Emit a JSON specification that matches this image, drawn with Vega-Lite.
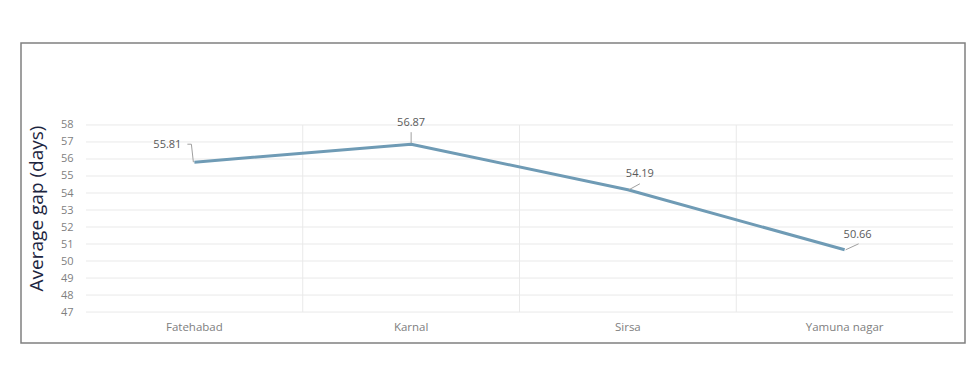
{
  "$schema": "https://vega.github.io/schema/vega-lite/v6.json",
  "width": 944,
  "height": 300,
  "autosize": "none",
  "padding": {"left": 21, "top": 43, "right": 11, "bottom": 40},
  "background": "white",
  "config": {
    "font": "Open Sans",
    "view": {"stroke": "#808080", "strokeWidth": 1.5}
  },
  "datasets": {
    "gap": [
      {"district": "Fatehabad", "gap": 55.81},
      {"district": "Karnal", "gap": 56.87},
      {"district": "Sirsa", "gap": 54.19},
      {"district": "Yamuna nagar", "gap": 50.66}
    ],
    "ticks": [
      {"v": 47}, {"v": 48}, {"v": 49}, {"v": 50}, {"v": 51}, {"v": 52},
      {"v": 53}, {"v": 54}, {"v": 55}, {"v": 56}, {"v": 57}, {"v": 58}
    ]
  },
  "resolve": {"scale": {"x": "independent"}},
  "layer": [
    {
      "data": {"name": "ticks"},
      "mark": {"type": "rule", "color": "#e9e9e9", "strokeWidth": 1},
      "encoding": {
        "y": {
          "field": "v",
          "type": "quantitative",
          "scale": {"domain": [45.18, 62.82], "nice": false, "zero": false},
          "axis": {
            "orient": "left",
            "offset": -65,
            "values": [47, 48, 49, 50, 51, 52, 53, 54, 55, 56, 57, 58],
            "grid": false,
            "domain": false,
            "ticks": false,
            "labelPadding": 13,
            "labelFontSize": 11,
            "labelColor": "#7f7f7f",
            "title": "Average gap (days)",
            "titleFontSize": 19,
            "titleFontWeight": "normal",
            "titleColor": "#1c2540",
            "titleAngle": -90,
            "titleBaseline": "middle",
            "titleAlign": "center",
            "titleX": -50,
            "titleY": 165
          }
        },
        "x": {"datum": 0, "type": "quantitative", "scale": {"domain": [0, 1], "range": [65, 932]}, "axis": null},
        "x2": {"datum": 1}
      }
    },
    {
      "data": {"name": "gap"},
      "encoding": {
        "x": {
          "field": "district",
          "type": "nominal",
          "sort": null,
          "scale": {
            "type": "band",
            "domain": ["Fatehabad", "Karnal", "Sirsa", "Yamuna nagar"],
            "range": [65, 932],
            "paddingInner": 0,
            "paddingOuter": 0
          },
          "axis": {
            "orient": "bottom",
            "offset": -31,
            "title": null,
            "grid": false,
            "domain": false,
            "ticks": false,
            "labelAngle": 0,
            "labelPadding": 9,
            "labelFontSize": 11.5,
            "labelColor": "#808080"
          }
        },
        "y": {
          "field": "gap",
          "type": "quantitative",
          "scale": {"domain": [45.18, 62.82], "nice": false, "zero": false},
          "axis": {
            "orient": "left",
            "offset": -65,
            "values": [47, 48, 49, 50, 51, 52, 53, 54, 55, 56, 57, 58],
            "grid": false,
            "domain": false,
            "ticks": false,
            "labelPadding": 13,
            "labelFontSize": 11,
            "labelColor": "#7f7f7f",
            "title": "Average gap (days)",
            "titleFontSize": 19,
            "titleFontWeight": "normal",
            "titleColor": "#1c2540",
            "titleAngle": -90,
            "titleBaseline": "middle",
            "titleAlign": "center",
            "titleX": -50,
            "titleY": 165
          }
        }
      },
      "layer": [
        {
          "transform": [{"filter": "datum.district !== 'Fatehabad'"}],
          "mark": {"type": "rule", "color": "#e9e9e9", "strokeWidth": 1},
          "encoding": {
            "x": {"field": "district", "type": "nominal", "bandPosition": 0},
            "y": {"datum": 47},
            "y2": {"datum": 58}
          }
        },
        {
          "mark": {"type": "line", "color": "#6f9bb5", "strokeWidth": 3, "strokeJoin": "round"}
        },
        {
          "transform": [{"filter": "datum.district === 'Fatehabad'"}],
          "layer": [
            {
              "mark": {"type": "rule", "color": "#a0a0a0", "strokeWidth": 1, "xOffset": -1, "y2Offset": -18, "x2Offset": -3},
              "encoding": {"x2": {"field": "district"}, "y2": {"field": "gap"}}
            },
            {
              "mark": {"type": "rule", "color": "#a0a0a0", "strokeWidth": 1, "xOffset": -3, "yOffset": -18, "x2Offset": -7, "y2Offset": -18},
              "encoding": {"x2": {"field": "district"}, "y2": {"field": "gap"}}
            },
            {
              "mark": {"type": "text", "fontSize": 11, "color": "#5a5a5a", "dx": -27, "dy": -17, "align": "center", "baseline": "middle"},
              "encoding": {"text": {"field": "gap", "format": ".2f"}}
            }
          ]
        },
        {
          "transform": [{"filter": "datum.district === 'Karnal'"}],
          "layer": [
            {
              "mark": {"type": "rule", "color": "#a0a0a0", "strokeWidth": 1, "yOffset": -1, "y2Offset": -12},
              "encoding": {"y2": {"field": "gap"}}
            },
            {
              "mark": {"type": "text", "fontSize": 11, "color": "#5a5a5a", "dy": -21, "align": "center", "baseline": "middle"},
              "encoding": {"text": {"field": "gap", "format": ".2f"}}
            }
          ]
        },
        {
          "transform": [{"filter": "datum.district === 'Sirsa'"}],
          "layer": [
            {
              "mark": {"type": "rule", "color": "#a0a0a0", "strokeWidth": 1, "xOffset": 1, "x2Offset": 12, "y2Offset": -6},
              "encoding": {"x2": {"field": "district"}, "y2": {"field": "gap"}}
            },
            {
              "mark": {"type": "text", "fontSize": 11, "color": "#5a5a5a", "dx": 12, "dy": -16, "align": "center", "baseline": "middle"},
              "encoding": {"text": {"field": "gap", "format": ".2f"}}
            }
          ]
        },
        {
          "transform": [{"filter": "datum.district === 'Yamuna nagar'"}],
          "layer": [
            {
              "mark": {"type": "rule", "color": "#a0a0a0", "strokeWidth": 1, "xOffset": 1, "x2Offset": 14, "y2Offset": -6},
              "encoding": {"x2": {"field": "district"}, "y2": {"field": "gap"}}
            },
            {
              "mark": {"type": "text", "fontSize": 11, "color": "#5a5a5a", "dx": 13, "dy": -15, "align": "center", "baseline": "middle"},
              "encoding": {"text": {"field": "gap", "format": ".2f"}}
            }
          ]
        }
      ]
    }
  ]
}
